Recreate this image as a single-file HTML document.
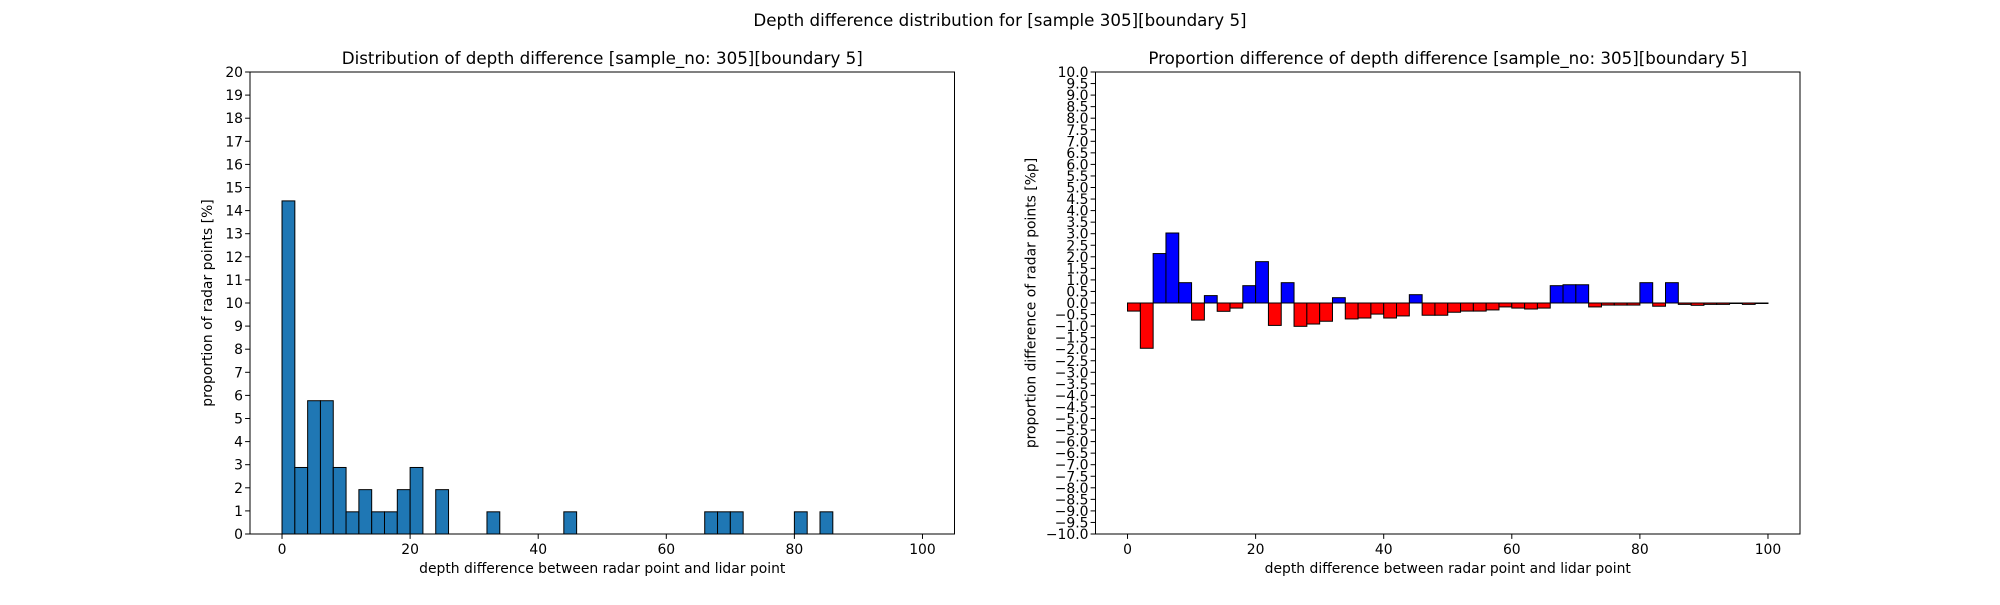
<!DOCTYPE html>
<html><head><meta charset="utf-8"><style>
html,body{margin:0;padding:0;background:#fff;}
svg text{font-family:"DejaVu Sans","Liberation Sans",sans-serif;fill:#000;}
</style></head><body>
<svg id="fig" width="2000" height="600" xmlns="http://www.w3.org/2000/svg">
<text x="1000" y="26" font-size="16.7" text-anchor="middle">Depth difference distribution for [sample 305][boundary 5]</text>
<g id="left"></g>
<g id="right"></g>
</svg>
<script>
const binEdgesStart = 0, binWidth = 2;
const leftValues = [14.42,2.88,5.77,5.77,2.88,0.96,1.92,0.96,0.96,1.92,2.88,0,1.92,0,0,0,0.96,0,0,0,0,0,0.96,0,0,0,0,0,0,0,0,0,0,0.96,0.96,0.96,0,0,0,0,0.96,0,0.96,0,0,0,0,0,0,0];
const rightValues = [-0.35,-1.96,2.14,3.03,0.88,-0.74,0.32,-0.36,-0.22,0.75,1.79,-0.97,0.88,-1.01,-0.91,-0.79,0.23,-0.69,-0.65,-0.48,-0.65,-0.56,0.36,-0.53,-0.53,-0.40,-0.35,-0.35,-0.30,-0.17,-0.22,-0.26,-0.22,0.75,0.79,0.79,-0.17,-0.09,-0.09,-0.09,0.88,-0.14,0.88,-0.06,-0.10,-0.06,-0.06,-0.02,-0.06,-0.02];
const xTicks = [0,20,40,60,80,100];
const leftYTicks = [0,1,2,3,4,5,6,7,8,9,10,11,12,13,14,15,16,17,18,19,20];
const rightYTicks = [-10,-9.5,-9,-8.5,-8,-7.5,-7,-6.5,-6,-5.5,-5,-4.5,-4,-3.5,-3,-2.5,-2,-1.5,-1,-0.5,0,0.5,1,1.5,2,2.5,3,3.5,4,4.5,5,5.5,6,6.5,7,7.5,8,8.5,9,9.5,10];

const NS='http://www.w3.org/2000/svg';
function mk(tag, attrs, parent){const e=document.createElementNS(NS,tag);for(const k in attrs)e.setAttribute(k,attrs[k]);parent.appendChild(e);return e;}

function draw(g, x0, ymin, ymax, values, yTicks, title, ylabel, colorFn, fmt, ylabOffset){
  const x1=x0+704.5, yTop=72, yBot=534;
  const sx=v=>x0+(v+5)/110*(x1-x0);
  const sy=v=>yBot-(v-ymin)/(ymax-ymin)*(yBot-yTop);
  values.forEach((v,i)=>{
    if(v===0) return;
    const a=sx(binEdgesStart+i*binWidth), b=sx(binEdgesStart+(i+1)*binWidth);
    const ya=sy(Math.max(v,0)), yb=sy(Math.min(v,0));
    const r=mk('rect',{x:a,y:ya,width:b-a,height:Math.max(yb-ya,0.5),fill:colorFn(v),stroke:'#000','stroke-width':1},g);
    
    
  });
  const frame=mk('rect',{x:x0,y:yTop,width:x1-x0,height:yBot-yTop,fill:'none',stroke:'#000','stroke-width':1},g);
  
  
  xTicks.forEach(t=>{
    const x=sx(t);
    mk('line',{x1:x,x2:x,y1:yBot,y2:yBot+4.9,stroke:'#000'},g);
    const tx=mk('text',{x:x,y:yBot+20,'font-size':13.9,'text-anchor':'middle'},g);
    tx.textContent=t;
    
    
  });
  yTicks.forEach(t=>{
    const y=sy(t);
    mk('line',{x1:x0,x2:x0-4.9,y1:y,y2:y,stroke:'#000'},g);
    const tx=mk('text',{x:x0-7,y:y+5,'font-size':13.9,'text-anchor':'end'},g);
    tx.textContent=fmt(t);
    
    
  });
  const tt=mk('text',{x:(x0+x1)/2,y:64,'font-size':16.7,'text-anchor':'middle'},g);
  tt.textContent=title;
  
  
  const xl=mk('text',{x:(x0+x1)/2,y:573,'font-size':13.9,'text-anchor':'middle'},g);
  xl.textContent='depth difference between radar point and lidar point';
  
  
  const yx=x0-ylabOffset;
  const yl=mk('text',{x:0,y:0,'font-size':13.9,'text-anchor':'middle',transform:`translate(${yx},${(yTop+yBot)/2}) rotate(-90)`},g);
  yl.textContent=ylabel;
  
  
}
draw(document.getElementById('left'),250,0,20,leftValues,leftYTicks,
 'Distribution of depth difference [sample_no: 305][boundary 5]','proportion of radar points [%]',
 v=>'#1f77b4',t=>String(t),38);
draw(document.getElementById('right'),1095.5,-10,10,rightValues,rightYTicks,
 'Proportion difference of depth difference [sample_no: 305][boundary 5]','proportion difference of radar points [%p]',
 v=>v>0?'#0000ff':'#ff0000',t=>(t<0?'\u2212':'')+Math.abs(t).toFixed(1),60);
</script>
</body></html>
